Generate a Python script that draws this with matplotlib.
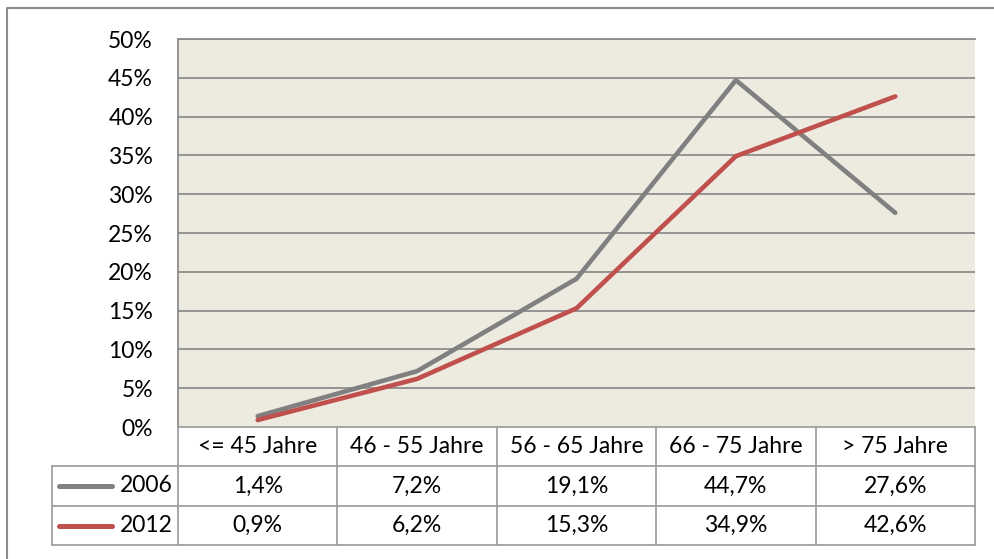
import matplotlib.pyplot as plt
from matplotlib.lines import Line2D
import numpy as np

plt.rcParams['font.family'] = ['Lato', 'DejaVu Sans']

categories = ['<= 45 Jahre', '46 - 55 Jahre', '56 - 65 Jahre', '66 - 75 Jahre', '> 75 Jahre']
years = ['2006', '2012']
values_2006 = [1.4, 7.2, 19.1, 44.7, 27.6]
values_2012 = [0.9, 6.2, 15.3, 34.9, 42.6]
colors = ['#808080', '#C0504D']
yticks = [0, 5, 10, 15, 20, 25, 30, 35, 40, 45, 50]

FS = 16.5
W, H = 994, 559
fig = plt.figure(figsize=(W / 100, H / 100), dpi=100)

# pixel geometry of the plot area
px0, px1 = 178, 975
py0, py1 = 39, 427

ax = fig.add_axes([px0 / W, 1 - py1 / H, (px1 - px0) / W, (py1 - py0) / H])
ax.set_facecolor('#EDEAE0')
x = np.arange(len(categories))
ax.set_xlim(-0.5, len(categories) - 0.5)
ax.set_ylim(0, 50)
ax.set_yticks(yticks)
ax.set_yticklabels(['%d%%' % v for v in yticks], fontsize=FS)
ax.tick_params(axis='y', length=0, pad=18)
ax.set_xticks([])
for v in yticks[1:]:
    ax.axhline(v, color='#8C8C8C', lw=1.3, zorder=1)
for side in ['right', 'bottom']:
    ax.spines[side].set_visible(False)
ax.spines['left'].set_color('#8C8C8C')
ax.spines['left'].set_linewidth(1.3)
ax.spines['top'].set_color('#8C8C8C')
ax.spines['top'].set_linewidth(1.3)

series = [values_2006, values_2012]
for vals, c in zip(series, colors):
    ax.plot(x, vals, color=c, lw=3.3, solid_capstyle='round', solid_joinstyle='round', zorder=3)

# overlay in pixel coordinates for table and frame
ov = fig.add_axes([0, 0, 1, 1])
ov.set_xlim(0, W)
ov.set_ylim(H, 0)
ov.axis('off')
ov.patch.set_alpha(0)

tc = '#A0A0A0'
colw = (px1 - px0) / len(categories)
col_edges = [px0 + i * colw for i in range(len(categories) + 1)]
row_edges = [py1, 466, 506, 545]
leg_x0 = 52

# frame around the chart
ov.plot([7, 7, 993], [H, 8, 8], color='#8C8C8C', lw=1.5)

# horizontal table lines
ov.plot([px0, px1], [row_edges[0], row_edges[0]], color=tc, lw=1.3)
for ry in row_edges[1:]:
    ov.plot([leg_x0, px1], [ry, ry], color=tc, lw=1.3)
# vertical table lines
for cx in col_edges:
    ov.plot([cx, cx], [row_edges[0], row_edges[-1]], color=tc, lw=1.3)
ov.plot([leg_x0, leg_x0], [row_edges[1], row_edges[-1]], color=tc, lw=1.3)

for i, cat in enumerate(categories):
    cx = px0 + (i + 0.5) * colw
    ov.text(cx, (row_edges[0] + row_edges[1]) / 2, cat, ha='center', va='center', fontsize=FS)
    for r, vals in enumerate(series):
        cy = (row_edges[r + 1] + row_edges[r + 2]) / 2
        ov.text(cx, cy, ('%.1f%%' % vals[i]).replace('.', ','), ha='center', va='center', fontsize=FS)

for r, (yr, c) in enumerate(zip(years, colors)):
    cy = (row_edges[r + 1] + row_edges[r + 2]) / 2
    ov.add_line(Line2D([59, 112], [cy, cy], color=c, lw=3.6, solid_capstyle='round'))
    ov.text(173, cy, yr, ha='right', va='center', fontsize=FS)

fig.savefig('out.png', dpi=100)
